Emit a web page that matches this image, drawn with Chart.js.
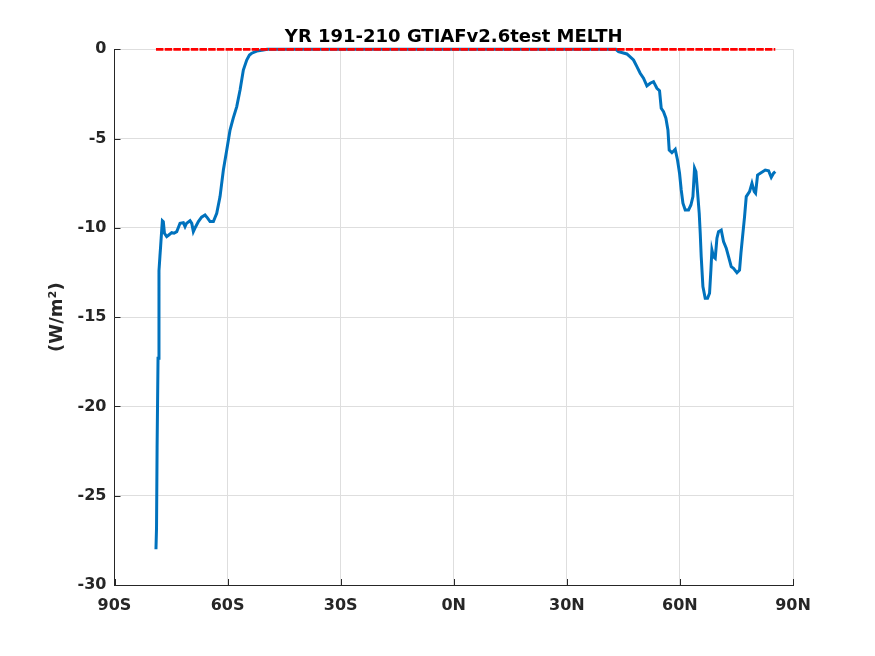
<!DOCTYPE html>
<html>
<head>
<meta charset="utf-8">
<title>MELTH</title>
<script src="https://cdn.jsdelivr.net/npm/chart.js@4.4.1/dist/chart.umd.min.js"></script>
<style>
  html, body { margin: 0; padding: 0; background: #fff; }
  canvas { display: block; }
</style>
</head>
<body>
<canvas id="myChart" width="875" height="656"></canvas>
<script>
// latitude (deg, negative = south) and zonal mean MELTH (W/m^2)
var lat = [
  -79.0, -78.85, -78.7, -78.45, -78.2, -77.95, -77.75, -77.5, -77.3, -77.05,
  -76.75, -76.15, -75.6, -74.82, -74.2, -73.49, -73.0, -72.62, -71.74, -71.29,
  -70.9, -69.96, -69.5, -69.08, -68.5, -67.75, -66.9, -65.98, -65.3, -64.65,
  -63.77, -62.88, -62.0, -61.12, -60.22, -59.35, -58.5, -57.57, -56.69, -55.82,
  -54.92, -54.2, -53.59, -52.26, -50.51, -49.5,
  43.0, 43.71, 45.93, 47.69, 48.59, 49.46, 50.34, 51.24, 52.12, 52.99,
  53.9, 54.59, 55.04, 55.65, 56.28, 56.82, 57.16, 57.88, 58.75, 59.36,
  59.9, 60.35, 60.8, 61.41, 62.29, 62.92, 63.45, 63.88, 64.25, 64.67,
  65.12, 65.39, 65.65, 66.1, 66.71, 67.33, 67.86, 68.22, 68.49, 68.91,
  69.37, 69.82, 70.24, 70.96, 71.57, 72.29, 72.9, 73.61, 74.22, 75.13,
  75.82, 76.19, 76.62, 77.15, 77.6, 78.47, 79.11, 79.72, 80.07, 80.6,
  81.32, 82.64, 83.52, 84.23, 84.84, 85.3
];
var melth = [
  -28.0, -26.8, -22.3, -17.3, -12.4, -11.6, -11.0, -10.2, -9.6, -9.65,
  -10.3, -10.49, -10.4, -10.27, -10.3, -10.21, -9.95, -9.74, -9.71, -9.93,
  -9.75, -9.6, -9.75, -10.21, -9.95, -9.65, -9.4, -9.28, -9.45, -9.65,
  -9.65, -9.18, -8.25, -6.76, -5.64, -4.52, -3.85, -3.21, -2.28, -1.16,
  -0.6, -0.32, -0.22, -0.1, -0.04, 0,
  0, -0.13, -0.26, -0.6, -0.97, -1.34, -1.62, -2.05, -1.9, -1.81,
  -2.18, -2.32, -3.3, -3.49, -3.86, -4.52, -5.64, -5.79, -5.6, -6.2,
  -6.94, -7.88, -8.62, -9.0, -9.0, -8.72, -8.25, -6.66, -6.85, -7.97,
  -9.18, -10.3, -11.61, -13.29, -13.94, -13.94, -13.66, -12.36, -11.24, -11.61,
  -11.7, -10.58, -10.21, -10.12, -10.77, -11.14, -11.61, -12.17, -12.26, -12.51,
  -12.36, -11.42, -10.49, -9.37, -8.25, -7.97, -7.5, -7.97, -8.06, -7.04,
  -6.94, -6.76, -6.8, -7.17, -6.94, -6.85
];
var xTicks = [-90, -60, -30, 0, 30, 60, 90];
var xTickLabels = ['90S', '60S', '30S', '0N', '30N', '60N', '90N'];
var yTicks = [-30, -25, -20, -15, -10, -5, 0];

var zeroLine = [
  {x: lat[0], y: 0},
  {x: lat[lat.length - 1], y: 0}
];
var meltPoints = lat.map(function(v, i) { return {x: v, y: melth[i]}; });

var axisColor = '#262626';
var gridColor = '#dedede';
var fontFamily = '"DejaVu Sans", sans-serif';

// MATLAB-style ticks that point into the axes
var innerTicks = {
    id: 'innerTicks',
    afterDraw: function(chart) {
        var ctx = chart.ctx;
        var xs = chart.scales.x, ys = chart.scales.y;
        var area = chart.chartArea;
        ctx.save();
        ctx.strokeStyle = axisColor;
        ctx.lineWidth = 1;
        ctx.beginPath();
        yTicks.forEach(function(t) {
            var py = Math.round(ys.getPixelForValue(t)) + 0.5;
            ctx.moveTo(area.left, py);
            ctx.lineTo(area.left + 6, py);
        });
        xTicks.forEach(function(t) {
            var px = Math.round(xs.getPixelForValue(t)) + 0.5;
            ctx.moveTo(px, area.bottom);
            ctx.lineTo(px, area.bottom - 6);
        });
        ctx.stroke();
        ctx.restore();
    }
};

var ctx = document.getElementById('myChart').getContext('2d');
var myChart = new Chart(ctx, {
    type: 'line',
    data: {
        datasets: [{
            label: 'zero',
            data: zeroLine,
            borderColor: '#ff0000',
            borderWidth: 2.8,
            borderDash: [7.5, 1.2],
            pointRadius: 0,
            tension: 0,
            clip: false
        }, {
            label: 'MELTH',
            data: meltPoints,
            borderColor: '#0072bd',
            borderWidth: 3,
            pointRadius: 0,
            tension: 0,
            clip: false
        }]
    },
    options: {
        responsive: false,
        animation: false,
        layout: { padding: { left: 0, right: 82, top: 0, bottom: 0 } },
        plugins: {
            legend: { display: false },
            tooltip: { enabled: false },
            title: {
                display: true,
                fullSize: false,
                text: 'YR 191-210 GTIAFv2.6test MELTH',
                color: '#000',
                font: { family: fontFamily, size: 18, weight: 'bold' },
                padding: { top: 27, bottom: 0.7 }
            }
        },
        scales: {
            x: {
                type: 'linear',
                min: -90,
                max: 90,
                afterBuildTicks: function(scale) {
                    scale.ticks = xTicks.map(function(v) { return {value: v}; });
                },
                afterFit: function(scale) { scale.height = 71; },
                ticks: {
                    color: axisColor,
                    padding: 11,
                    maxRotation: 0,
                    font: { family: fontFamily, size: 16, weight: 'bold' },
                    callback: function(v) {
                        return xTickLabels[xTicks.indexOf(v)];
                    }
                },
                grid: { color: gridColor, drawTicks: false },
                border: { color: axisColor, width: 1 }
            },
            y: {
                min: -30,
                max: 0,
                afterBuildTicks: function(scale) {
                    scale.ticks = yTicks.map(function(v) { return {value: v}; });
                },
                afterFit: function(scale) { scale.width = 114.5; },
                ticks: {
                    color: axisColor,
                    padding: 8,
                    font: { family: fontFamily, size: 16, weight: 'bold' }
                },
                grid: { color: gridColor, drawTicks: false },
                border: { color: axisColor, width: 1 },
                title: {
                    display: true,
                    text: '(W/m²)',
                    color: axisColor,
                    font: { family: fontFamily, size: 18, weight: 'bold' },
                    padding: { top: 47, bottom: 0 }
                }
            }
        }
    },
    plugins: [innerTicks]
});
</script>
</body>
</html>
